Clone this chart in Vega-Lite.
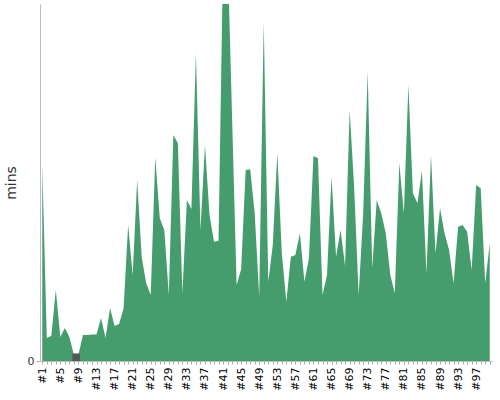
{
  "$schema": "https://vega.github.io/schema/vega-lite/v6.json",
  "width": 452,
  "height": 357,
  "autosize": {"type": "none"},
  "padding": {"left": 40, "top": 4, "right": 8, "bottom": 39},
  "background": "white",
  "config": {"view": {"stroke": null}},
  "data": {"values": [
    {"run": "#1", "mins": 19.7, "status": "ok"},
    {"run": "#2", "mins": 2.3, "status": "ok"},
    {"run": "#3", "mins": 2.5, "status": "ok"},
    {"run": "#4", "mins": 7.1, "status": "ok"},
    {"run": "#5", "mins": 2.4, "status": "ok"},
    {"run": "#6", "mins": 3.3, "status": "ok"},
    {"run": "#7", "mins": 2.4, "status": "ok"},
    {"run": "#8", "mins": 0.6, "status": "low"},
    {"run": "#9", "mins": 0.6, "status": "low"},
    {"run": "#10", "mins": 2.6, "status": "ok"},
    {"run": "#11", "mins": 2.6, "status": "ok"},
    {"run": "#12", "mins": 2.65, "status": "ok"},
    {"run": "#13", "mins": 2.65, "status": "ok"},
    {"run": "#14", "mins": 4.3, "status": "ok"},
    {"run": "#15", "mins": 2.3, "status": "ok"},
    {"run": "#16", "mins": 5.3, "status": "ok"},
    {"run": "#17", "mins": 3.5, "status": "ok"},
    {"run": "#18", "mins": 3.7, "status": "ok"},
    {"run": "#19", "mins": 5.27, "status": "ok"},
    {"run": "#20", "mins": 13.6, "status": "ok"},
    {"run": "#21", "mins": 8.6, "status": "ok"},
    {"run": "#22", "mins": 18.1, "status": "ok"},
    {"run": "#23", "mins": 10.4, "status": "ok"},
    {"run": "#24", "mins": 7.77, "status": "ok"},
    {"run": "#25", "mins": 6.6, "status": "ok"},
    {"run": "#26", "mins": 20.4, "status": "ok"},
    {"run": "#27", "mins": 14.27, "status": "ok"},
    {"run": "#28", "mins": 13.1, "status": "ok"},
    {"run": "#29", "mins": 6.6, "status": "ok"},
    {"run": "#30", "mins": 22.6, "status": "ok"},
    {"run": "#31", "mins": 21.77, "status": "ok"},
    {"run": "#32", "mins": 6.77, "status": "ok"},
    {"run": "#33", "mins": 16.1, "status": "ok"},
    {"run": "#34", "mins": 15.2, "status": "ok"},
    {"run": "#35", "mins": 30.77, "status": "ok"},
    {"run": "#36", "mins": 13.1, "status": "ok"},
    {"run": "#37", "mins": 21.6, "status": "ok"},
    {"run": "#38", "mins": 14.6, "status": "ok"},
    {"run": "#39", "mins": 11.93, "status": "ok"},
    {"run": "#40", "mins": 12.03, "status": "ok"},
    {"run": "#41", "mins": 40.3, "status": "ok"},
    {"run": "#42", "mins": 41.0, "status": "ok"},
    {"run": "#43", "mins": 24.3, "status": "ok"},
    {"run": "#44", "mins": 7.6, "status": "ok"},
    {"run": "#45", "mins": 9.17, "status": "ok"},
    {"run": "#46", "mins": 19.1, "status": "ok"},
    {"run": "#47", "mins": 19.17, "status": "ok"},
    {"run": "#48", "mins": 14.77, "status": "ok"},
    {"run": "#49", "mins": 6.43, "status": "ok"},
    {"run": "#50", "mins": 33.9, "status": "ok"},
    {"run": "#51", "mins": 7.93, "status": "ok"},
    {"run": "#52", "mins": 11.6, "status": "ok"},
    {"run": "#53", "mins": 20.77, "status": "ok"},
    {"run": "#54", "mins": 10.77, "status": "ok"},
    {"run": "#55", "mins": 5.93, "status": "ok"},
    {"run": "#56", "mins": 10.43, "status": "ok"},
    {"run": "#57", "mins": 10.6, "status": "ok"},
    {"run": "#58", "mins": 12.77, "status": "ok"},
    {"run": "#59", "mins": 7.93, "status": "ok"},
    {"run": "#60", "mins": 10.27, "status": "ok"},
    {"run": "#61", "mins": 20.5, "status": "ok"},
    {"run": "#62", "mins": 20.27, "status": "ok"},
    {"run": "#63", "mins": 6.6, "status": "ok"},
    {"run": "#64", "mins": 8.6, "status": "ok"},
    {"run": "#65", "mins": 18.43, "status": "ok"},
    {"run": "#66", "mins": 10.43, "status": "ok"},
    {"run": "#67", "mins": 13.1, "status": "ok"},
    {"run": "#68", "mins": 9.5, "status": "ok"},
    {"run": "#69", "mins": 25.1, "status": "ok"},
    {"run": "#70", "mins": 17.43, "status": "ok"},
    {"run": "#71", "mins": 6.6, "status": "ok"},
    {"run": "#72", "mins": 14.77, "status": "ok"},
    {"run": "#73", "mins": 28.93, "status": "ok"},
    {"run": "#74", "mins": 9.27, "status": "ok"},
    {"run": "#75", "mins": 16.1, "status": "ok"},
    {"run": "#76", "mins": 14.77, "status": "ok"},
    {"run": "#77", "mins": 12.77, "status": "ok"},
    {"run": "#78", "mins": 8.6, "status": "ok"},
    {"run": "#79", "mins": 6.77, "status": "ok"},
    {"run": "#80", "mins": 19.77, "status": "ok"},
    {"run": "#81", "mins": 14.77, "status": "ok"},
    {"run": "#82", "mins": 27.6, "status": "ok"},
    {"run": "#83", "mins": 16.77, "status": "ok"},
    {"run": "#84", "mins": 15.77, "status": "ok"},
    {"run": "#85", "mins": 19.0, "status": "ok"},
    {"run": "#86", "mins": 8.77, "status": "ok"},
    {"run": "#87", "mins": 20.6, "status": "ok"},
    {"run": "#88", "mins": 10.77, "status": "ok"},
    {"run": "#89", "mins": 15.27, "status": "ok"},
    {"run": "#90", "mins": 12.77, "status": "ok"},
    {"run": "#91", "mins": 11.1, "status": "ok"},
    {"run": "#92", "mins": 7.77, "status": "ok"},
    {"run": "#93", "mins": 13.43, "status": "ok"},
    {"run": "#94", "mins": 13.6, "status": "ok"},
    {"run": "#95", "mins": 12.93, "status": "ok"},
    {"run": "#96", "mins": 9.1, "status": "ok"},
    {"run": "#97", "mins": 17.6, "status": "ok"},
    {"run": "#98", "mins": 17.27, "status": "ok"},
    {"run": "#99", "mins": 7.77, "status": "ok"},
    {"run": "#100", "mins": 11.77, "status": "ok"}
  ]},
  "encoding": {
    "x": {
      "field": "run",
      "type": "ordinal",
      "sort": null,
      "title": null,
      "axis": {
        "labelAngle": -90,
        "labelExpr": "(parseInt(substring(datum.value, 1)) - 1) % 4 == 0 ? datum.value : ''",
        "labelOverlap": false,
        "labelFont": "DejaVu Sans",
        "labelFontSize": 11,
        "labelColor": "#000",
        "labelPadding": 3,
        "tickSize": 3,
        "tickColor": "#aaa",
        "domainColor": "#bbb"
      }
    },
    "y": {
      "field": "mins",
      "type": "quantitative",
      "scale": {"domain": [0, 35.7], "nice": false},
      "title": "mins",
      "axis": {
        "values": [0],
        "grid": false,
        "domainColor": "#bbb",
        "tickColor": "#aaa",
        "tickSize": 4,
        "labelFont": "DejaVu Sans",
        "labelFontSize": 11,
        "labelColor": "#333",
        "titleFont": "DejaVu Sans",
        "titleFontSize": 14,
        "titleFontWeight": "normal",
        "titleColor": "#333",
        "titlePadding": 9
      }
    }
  },
  "layer": [
    {
      "mark": {"type": "area", "color": "#459d6e", "clip": true}
    },
    {
      "transform": [{"filter": "datum.status == 'low'"}],
      "mark": {"type": "area", "color": "#555555", "stroke": "#555555", "strokeWidth": 3, "clip": true}
    }
  ]
}
